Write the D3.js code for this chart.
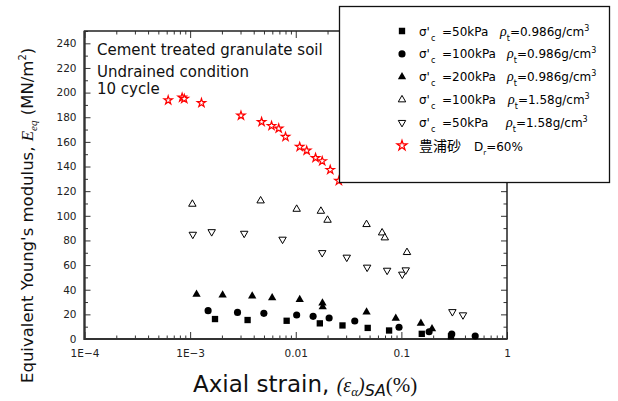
<!DOCTYPE html>
<html>
<head>
<meta charset="utf-8">
<script src="https://cdn.jsdelivr.net/npm/d3@7"></script>
<style>
  body { margin: 0; background: #fff; }
  svg { display: block; font-family: "DejaVu Sans", sans-serif; }
</style>
</head>
<body>
<script>
// axial strain (%) , Eeq (MN/m2)
const sq50Low = [[1.72e-3, 16.2], [3.5e-3, 15.4], [8.2e-3, 14.8], [0.0169, 12.7], [0.0277, 11], [0.048, 9], [0.0765, 6.9], [0.156, 4.2], [0.295, 2.2]];
const ci100Low = [[1.48e-3, 23], [2.81e-3, 21.6], [4.99e-3, 20.8], [0.0102, 19.5], [0.0146, 18.4], [0.0207, 17], [0.0362, 14.6], [0.095, 9.5], [0.183, 5.9], [0.30, 4.1], [0.50, 2.4]];
const tri200Low = [[1.15e-3, 36.3], [2.03e-3, 35.7], [3.87e-3, 34.9], [5.98e-3, 33.5], [0.0109, 32], [0.0179, 29.2], [0.018, 26], [0.0468, 21.8], [0.0885, 16.7], [0.153, 12.7], [0.195, 8.3]];
const tri100High = [[1.05e-3, 109.5], [4.65e-3, 112.2], [0.0102, 105.4], [0.0173, 103.8], [0.02, 96.5], [0.0468, 93], [0.0657, 86.2], [0.0697, 82.2], [0.113, 70.3]];
const inv50High = [[1.06e-3, 84.9], [1.6e-3, 87], [3.25e-3, 85.7], [7.5e-3, 80.9], [0.0178, 70], [0.0304, 66.3], [0.0474, 58.2], [0.0733, 55.7], [0.102, 52.5], [0.11, 56], [0.304, 22.1], [0.383, 19.5]];
const toyoura = [[6.2e-4, 193.8], [8.4e-4, 196], [8.8e-4, 195], [1.28e-3, 191.6], [3.03e-3, 181.4], [4.75e-3, 176.2], [5.9e-3, 173], [6.9e-3, 170.9], [8.0e-3, 164.1], [0.0109, 156], [0.0127, 153], [0.0154, 147], [0.0178, 144.4], [0.0212, 137.3], [0.0256, 128.4]];

const xMajor = [1e-4, 1e-3, 0.01, 0.1, 1];
const xTickLabels = ["1E\u22124", "1E\u22123", "0.01", "0.1", "1"];
const yMajor = [0, 20, 40, 60, 80, 100, 120, 140, 160, 180, 200, 220, 240];

const pressures = ["=50kPa", "=100kPa", "=200kPa", "=100kPa", "=50kPa"];
const densities = ["=0.986g/cm", "=0.986g/cm", "=0.986g/cm", "=1.58g/cm", "=1.58g/cm"];
const notes = ["Cement treated granulate soil", "Undrained condition", "10 cycle"];

const width = 618, height = 401;
const plot = { left: 84.5, right: 507, top: 31, bottom: 339 };

const svg = d3.select("body").append("svg")
  .attr("width", width)
  .attr("height", height);

const x = d3.scaleLog().domain([1e-4, 1]).range([plot.left, plot.right]);
const y = d3.scaleLinear().domain([0, 250]).range([plot.bottom, plot.top]);

const xMinor = x.ticks().filter(d => !xMajor.some(m => Math.abs(m - d) / m < 1e-6));
const yMinor = d3.range(10, 251, 20);

function noDomain(g) {
  g.select(".domain").remove();
  g.selectAll(".tick line").attr("stroke", "#333");
}

// ticks, all pointing inward
svg.append("g").attr("transform", `translate(0,${plot.bottom})`)
  .call(d3.axisBottom(x).tickValues(xMajor).tickSize(-7).tickPadding(11)
    .tickFormat((d, i) => xTickLabels[i]))
  .call(noDomain)
  .call(g => g.selectAll("text").attr("font-size", 10.5).attr("fill", "#222")
    .attr("font-family", "DejaVu Sans"));
svg.append("g").attr("transform", `translate(0,${plot.bottom})`)
  .call(d3.axisBottom(x).tickValues(xMinor).tickSize(-3.5).tickFormat(""))
  .call(noDomain);
svg.append("g").attr("transform", `translate(0,${plot.top})`)
  .call(d3.axisTop(x).tickValues(xMajor).tickSize(-7).tickFormat(""))
  .call(noDomain);
svg.append("g").attr("transform", `translate(0,${plot.top})`)
  .call(d3.axisTop(x).tickValues(xMinor).tickSize(-3.5).tickFormat(""))
  .call(noDomain);

svg.append("g").attr("transform", `translate(${plot.left},0)`)
  .call(d3.axisLeft(y).tickValues(yMajor).tickSize(-6).tickPadding(8))
  .call(noDomain)
  .call(g => g.selectAll("text").attr("font-size", 10.5).attr("fill", "#222")
    .attr("font-family", "DejaVu Sans"));
svg.append("g").attr("transform", `translate(${plot.left},0)`)
  .call(d3.axisLeft(y).tickValues(yMinor).tickSize(-3.5).tickFormat(""))
  .call(noDomain);
svg.append("g").attr("transform", `translate(${plot.right},0)`)
  .call(d3.axisRight(y).tickValues(yMajor).tickSize(-6).tickFormat(""))
  .call(noDomain);
svg.append("g").attr("transform", `translate(${plot.right},0)`)
  .call(d3.axisRight(y).tickValues(yMinor).tickSize(-3.5).tickFormat(""))
  .call(noDomain);

// frame
svg.append("rect")
  .attr("x", plot.left).attr("y", plot.top)
  .attr("width", plot.right - plot.left).attr("height", plot.bottom - plot.top)
  .attr("fill", "none").attr("stroke", "#222").attr("stroke-width", 1.5);
svg.append("path")
  .attr("d", `M${plot.left},${plot.top}V${plot.bottom}H${plot.right}`)
  .attr("fill", "none").attr("stroke", "#333").attr("stroke-width", 2.2);

// marker styles
const series = [
  { data: sq50Low, type: d3.symbolSquare, size: 40, fill: "#000", stroke: "none", rot: 0 },
  { data: ci100Low, type: d3.symbolCircle, size: 40, fill: "#000", stroke: "none", rot: 0 },
  { data: tri200Low, type: d3.symbolTriangle, size: 30, fill: "#000", stroke: "none", rot: 0 },
  { data: tri100High, type: d3.symbolTriangle, size: 24, fill: "#fff", stroke: "#000", rot: 0 },
  { data: inv50High, type: d3.symbolTriangle, size: 24, fill: "#fff", stroke: "#000", rot: 180 },
  { data: toyoura, type: d3.symbolStar, size: 22, fill: "#fff", stroke: "red", rot: 0 }
];

series.forEach(s => {
  svg.append("g").selectAll("path")
    .data(s.data)
    .join("path")
    .attr("d", d3.symbol(s.type, s.size))
    .attr("transform", d => `translate(${x(d[0])},${y(d[1])}) rotate(${s.rot})`)
    .attr("fill", s.fill)
    .attr("stroke", s.stroke)
    .attr("stroke-width", s.stroke === "red" ? 1.2 : 1);
});

// annotation
svg.append("g").selectAll("text")
  .data(notes)
  .join("text")
  .attr("x", 97)
  .attr("y", (d, i) => [55, 77, 94][i])
  .attr("font-size", 15)
  .attr("fill", "#111")
  .text(d => d);

// legend
const box = { x: 339.5, y: 6.5, w: 270, h: 176 };
svg.append("clipPath").attr("id", "legclip")
  .append("rect").attr("x", box.x).attr("y", box.y).attr("width", box.w).attr("height", box.h);
svg.append("rect")
  .attr("x", box.x).attr("y", box.y).attr("width", box.w).attr("height", box.h)
  .attr("fill", "#fff").attr("stroke", "#111").attr("stroke-width", 1.3);

const legend = svg.append("g").attr("clip-path", "url(#legclip)");
const rowY = i => 31 + i * 22.9;
const rhoX = [500, 507, 507, 508, 506];

series.forEach((s, i) => {
  legend.append("path")
    .attr("d", d3.symbol(s.type, i === 5 ? 30 : s.size))
    .attr("transform", `translate(402,${rowY(i)}) rotate(${s.rot})`)
    .attr("fill", s.fill).attr("stroke", s.stroke)
    .attr("stroke-width", s.stroke === "red" ? 1.3 : 1);
  if (i === 5) return;
  const t = legend.append("text").attr("y", rowY(i) + 4.5).attr("font-size", 12);
  t.append("tspan").attr("x", 419).text("\u03c3'");
  t.append("tspan").attr("x", 431).attr("dy", 5).attr("font-size", 8).text("c");
  t.append("tspan").attr("x", 442).attr("dy", -5).text(pressures[i]);
  const r = legend.append("text").attr("y", rowY(i) + 4.5).attr("font-size", 12);
  r.append("tspan").attr("x", rhoX[i]).attr("font-family", "Liberation Serif")
    .attr("font-style", "italic").attr("font-size", 14).text("\u03c1");
  r.append("tspan").attr("dy", 5).attr("font-size", 8).text("t");
  r.append("tspan").attr("dy", -5).text(densities[i]);
  r.append("tspan").attr("dy", -5).attr("font-size", 8).text("3");
});

const toy = legend.append("text").attr("x", 419).attr("y", rowY(5) + 5).attr("font-size", 12);
toy.append("tspan").attr("font-family", "Noto Sans CJK JP").attr("font-size", 14).text("豊浦砂");
toy.append("tspan").attr("x", 474).text("D");
toy.append("tspan").attr("dy", 4).attr("font-size", 7).text("r");
toy.append("tspan").attr("dy", -4).text("=60%");

// axis titles
const xt = svg.append("text").attr("x", 193).attr("y", 392).attr("font-size", 23).attr("fill", "#111");
xt.append("tspan").text("Axial strain, ");
xt.append("tspan").attr("font-family", "Liberation Serif").attr("font-style", "italic")
  .attr("font-size", 20).text("(\u03b5");
xt.append("tspan").attr("font-family", "Liberation Serif").attr("font-style", "italic")
  .attr("font-size", 13).attr("dy", 4).text("\u03b1");
xt.append("tspan").attr("font-family", "Liberation Serif").attr("font-style", "italic")
  .attr("font-size", 20).attr("dy", -4).text(")");
xt.append("tspan").attr("font-style", "italic").attr("font-size", 16).attr("dy", 4).text("SA");
xt.append("tspan").attr("font-family", "Liberation Serif").attr("font-size", 21)
  .attr("dy", -4).text("(%)");

const yt = svg.append("text")
  .attr("transform", "translate(33,383) rotate(-90)")
  .attr("font-size", 16.5).attr("fill", "#111");
yt.append("tspan").text("Equivalent Young's modulus, ");
yt.append("tspan").attr("font-family", "Liberation Serif").attr("font-style", "italic")
  .attr("font-size", 17).text("E");
yt.append("tspan").attr("font-family", "Liberation Serif").attr("font-style", "italic")
  .attr("font-size", 11).attr("dy", 4).text("eq");
yt.append("tspan").attr("dy", -4).text(" (MN/m");
yt.append("tspan").attr("font-size", 10).attr("dy", -7).text("2");
yt.append("tspan").attr("dy", 7).text(")");
</script>
</body>
</html>
